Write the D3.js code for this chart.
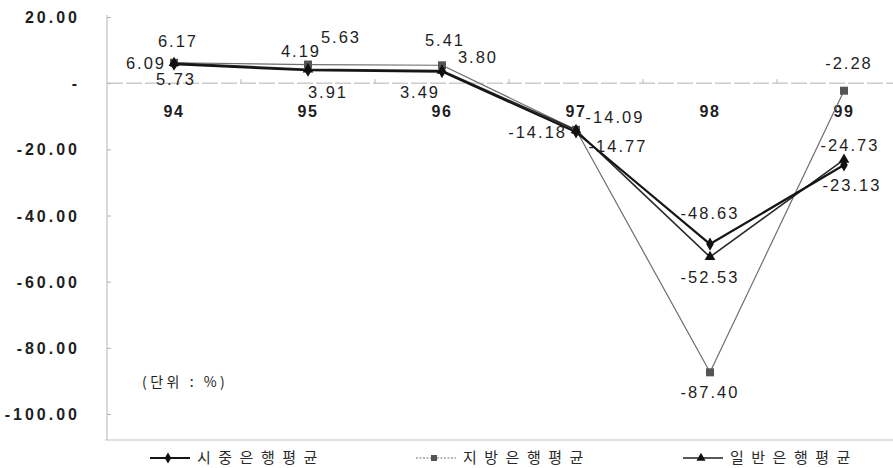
<!DOCTYPE html>
<html>
<head>
<meta charset="utf-8">
<script src="https://cdn.jsdelivr.net/npm/d3@7"></script>
<style>
  html, body { margin: 0; padding: 0; background: #fff; }
  svg { display: block; }
</style>
</head>
<body>
<svg id="chart" width="893" height="468"></svg>
<script>
// Years (category axis)
const years = ["94", "95", "96", "97", "98", "99"];

// Series values (%)
const sijung = [5.73, 3.91, 3.49, -14.77, -48.63, -24.73];   // 시중은행평균
const jibang = [6.17, 5.63, 5.41, -14.09, -87.40, -2.28];    // 지방은행평균
const ilban  = [6.09, 4.19, 3.80, -14.18, -52.53, -23.13];   // 일반은행평균

// Y axis ticks
const yTicks = [20, 0, -20, -40, -60, -80, -100];

// Series names
const seriesNames = ["시중은행평균", "지방은행평균", "일반은행평균"];

// number format with a plain hyphen for negatives
const fmt = d3.formatLocale({ decimal: ".", thousands: ",", grouping: [3], currency: ["", ""], minus: "-" }).format(".2f");

// ---- layout ----
const svg = d3.select("#chart");
const plotLeft = 107, plotTop = 17, plotBottom = 414;

const y = d3.scaleLinear().domain([-100, 20]).range([plotBottom, plotTop]);
const x = d3.scaleBand().domain(years).range([plotLeft, plotLeft + 134 * years.length]).padding(0);
const cx = d => x(d) + x.bandwidth() / 2;

const textColor = "#1e1e1e";
const axisColor = "#b4b4b4";

// Y axis
const yAxis = d3.axisLeft(y)
  .tickValues(yTicks)
  .tickSize(-4)
  .tickPadding(27)
  .tickFormat(v => v === 0 ? "-" : fmt(v));

const gy = svg.append("g")
  .attr("transform", `translate(${plotLeft},0)`)
  .call(yAxis);
gy.select(".domain").attr("stroke", axisColor).attr("d", `M0,${plotTop - 2}V440`);
gy.selectAll(".tick line").attr("stroke", axisColor);
gy.selectAll(".tick text")
  .attr("fill", textColor)
  .attr("font-family", "'Liberation Sans', Arial, sans-serif")
  .attr("font-weight", "bold")
  .attr("font-size", 16)
  .attr("letter-spacing", 3)
  .attr("dy", "0.35em");

// Category axis along zero
const xAxis = d3.axisBottom(x).tickSize(0).tickPadding(22);
const gx = svg.append("g")
  .attr("transform", `translate(0,${y(0)})`)
  .call(xAxis);
gx.select(".domain").attr("stroke", axisColor).attr("stroke-dasharray", "16,3").attr("d", `M${plotLeft},0H893`);
gx.selectAll(".tick text")
  .attr("fill", textColor)
  .attr("font-family", "'Liberation Sans', Arial, sans-serif")
  .attr("font-weight", "bold")
  .attr("font-size", 16)
  .attr("letter-spacing", 1.5);
// boundary ticks between categories
gx.selectAll(".bound")
  .data(years.slice(1))
  .join("line")
  .attr("x1", d => x(d)).attr("x2", d => x(d))
  .attr("y1", -4).attr("y2", 0)
  .attr("stroke", axisColor);

// Bottom rule
svg.append("line")
  .attr("x1", plotLeft - 2).attr("x2", 893)
  .attr("y1", 440).attr("y2", 440)
  .attr("stroke", "#c4c4c4").attr("stroke-width", 1.2);

// Series definitions
const series = [
  { name: seriesNames[1], values: jibang, stroke: "#6e6e6e", width: 1.2, marker: "square", fill: "#555" },
  { name: seriesNames[2], values: ilban,  stroke: "#2a2a2a", width: 1.6, marker: "triangle", fill: "#111" },
  { name: seriesNames[0], values: sijung, stroke: "#151515", width: 2.2, marker: "diamond", fill: "#111" }
];

const symbolFor = {
  square: d3.symbol().type(d3.symbolSquare).size(64),
  triangle: d3.symbol().type(d3.symbolTriangle).size(50),
  diamond: d3.symbol().type(d3.symbolDiamond).size(50)
};

const line = d3.line().x((d, i) => cx(years[i])).y(d => y(d));

series.forEach(s => {
  svg.append("path")
    .datum(s.values)
    .attr("d", line)
    .attr("fill", "none")
    .attr("stroke", s.stroke)
    .attr("stroke-width", s.width)
    .attr("stroke-linejoin", "round");
});
series.forEach(s => {
  svg.selectAll(null)
    .data(s.values)
    .join("path")
    .attr("transform", (d, i) => `translate(${cx(years[i])},${y(d)})`)
    .attr("d", symbolFor[s.marker]())
    .attr("fill", s.fill);
});

// Data label placement per series: [dx, dy, anchor] for each year
const labelPlacement = {
  "지방은행평균": [[4, -22, "middle"], [33, -27, "middle"], [3, -25, "middle"], [39, -13, "middle"], [0, 20, "middle"], [5, -27, "middle"]],
  "일반은행평균": [[-8, 0, "end"], [-7, -18, "middle"], [36, -13, "middle"], [-9, 2, "end"], [0, 20, "middle"], [8, 26, "middle"]],
  "시중은행평균": [[2, 15, "middle"], [20, 22, "middle"], [-22, 21, "middle"], [42, 14, "middle"], [0, -31, "middle"], [6, -20, "middle"]]
};

series.forEach(s => {
  const place = labelPlacement[s.name];
  svg.selectAll(null)
    .data(s.values)
    .join("text")
    .attr("x", (d, i) => cx(years[i]) + place[i][0])
    .attr("y", (d, i) => y(d) + place[i][1])
    .attr("dy", "0.35em")
    .attr("text-anchor", (d, i) => place[i][2])
    .attr("fill", textColor)
    .attr("font-family", "'Liberation Sans', Arial, sans-serif")
    .attr("font-size", 16.5)
    .attr("letter-spacing", 2)
    .text(d => fmt(d));
});

// Unit note
svg.append("text")
  .attr("x", 142).attr("y", 382).attr("dy", "0.35em")
  .attr("fill", textColor)
  .attr("font-family", "'Noto Sans CJK KR', sans-serif")
  .attr("font-size", 14)
  .attr("letter-spacing", 3.5)
  .text("(단위 : %)");

// Legend
const legendItems = [
  { name: seriesNames[0], x: 150, stroke: "#151515", width: 2, marker: "diamond", fill: "#111", dash: null },
  { name: seriesNames[1], x: 416, stroke: "#777", width: 1.2, marker: "square", fill: "#555", dash: "2,1.5" },
  { name: seriesNames[2], x: 683, stroke: "#222", width: 1.6, marker: "triangle", fill: "#111", dash: null }
];
const lg = svg.append("g").attr("transform", "translate(0,458)");
legendItems.forEach(it => {
  lg.append("line")
    .attr("x1", it.x).attr("x2", it.x + 40)
    .attr("stroke", it.stroke).attr("stroke-width", it.width)
    .attr("stroke-dasharray", it.dash);
  lg.append("path")
    .attr("transform", `translate(${it.x + 18},0)`)
    .attr("d", d3.symbol().type(it.marker === "square" ? d3.symbolSquare : it.marker === "triangle" ? d3.symbolTriangle : d3.symbolDiamond).size(36)())
    .attr("fill", it.fill);
  lg.append("text")
    .attr("x", it.x + 47).attr("dy", "0.35em")
    .attr("fill", "#2a2a2a")
    .attr("font-family", "'Noto Sans CJK KR', sans-serif")
    .attr("font-size", 15)
    .attr("letter-spacing", 7.5)
    .text(it.name);
});
</script>
</body>
</html>
